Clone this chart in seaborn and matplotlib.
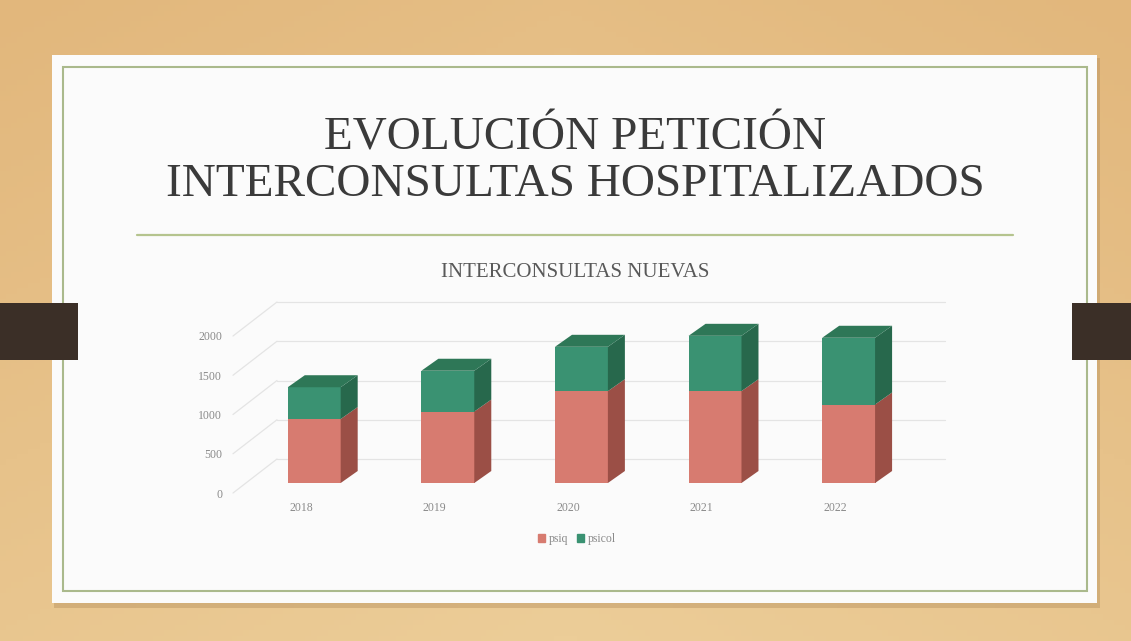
import numpy as np
import pandas as pd
import matplotlib.pyplot as plt
import matplotlib.transforms as mtransforms
from matplotlib.patches import Rectangle, Polygon
from matplotlib.lines import Line2D
from matplotlib.colors import LinearSegmentedColormap
import seaborn as sns

# data
years = ["2018", "2019", "2020", "2021", "2022"]
psiq = [815, 910, 1170, 1170, 1000]
psicol = [405, 520, 565, 705, 850]
yticks = [0, 500, 1000, 1500, 2000]

df = pd.DataFrame({"year": years, "psiq": psiq, "psicol": psicol})
df["total"] = df["psiq"] + df["psicol"]

W, H = 1131, 641
sns.set_theme(style="white")
plt.rcParams["font.family"] = ["Liberation Serif", "DejaVu Serif"]

fig = plt.figure(figsize=(W / 100, H / 100), dpi=100)
fig.patch.set_facecolor("#e7c48d")

# wood-ish backdrop (just a soft gradient)
bg = fig.add_axes([0, 0, 1, 1], zorder=-1)
gx, gy = np.meshgrid(np.linspace(-1, 1, 200), np.linspace(0, 1, 120))
shade = 0.55 * gy + 0.25 * (1 - np.abs(gx))
wood = LinearSegmentedColormap.from_list("wood", ["#e2b77c", "#eccd98"])
bg.imshow(shade, cmap=wood, aspect="auto", extent=[0, 1, 0, 1], origin="upper")
bg.set_axis_off()

# pixel coords, origin top-left
px = mtransforms.Affine2D().scale(1 / 100, -1 / 100).translate(0, H / 100) + fig.dpi_scale_trans

# slide card + shadow + border
fig.add_artist(Rectangle((54, 58), 1046, 550, facecolor="#b8925f", alpha=0.45, edgecolor="none", transform=px, zorder=0))
fig.add_artist(Rectangle((52, 55), 1045, 548, facecolor="#fbfbfb", edgecolor="none", transform=px, zorder=1))
fig.add_artist(Rectangle((63, 67), 1024, 524, facecolor="none", edgecolor="#aab98c", lw=1.5, transform=px, zorder=2))

# dark tabs on the sides
fig.add_artist(Rectangle((0, 303), 78, 57, facecolor="#3b2f27", edgecolor="none", transform=px, zorder=3))
fig.add_artist(Rectangle((1072, 303), 59, 57, facecolor="#3b2f27", edgecolor="none", transform=px, zorder=3))

# title
fig.text(575 / W, 1 - 150 / H, "EVOLUCIÓN PETICIÓN", ha="center", va="baseline",
         fontsize=34, color="#3a3a3a", zorder=4)
fig.text(575 / W, 1 - 196 / H, "INTERCONSULTAS HOSPITALIZADOS", ha="center", va="baseline",
         fontsize=34, color="#3a3a3a", zorder=4)
fig.add_artist(Line2D([137, 1013], [235, 235], color="#b5c48e", lw=1.6, transform=px, zorder=4))
fig.text(575 / W, 1 - 277 / H, "INTERCONSULTAS NUEVAS", ha="center", va="baseline",
         fontsize=15, color="#595959", zorder=4)

# chart axes: bar base at y=483px, 0.0785 px per unit, 133.6 px per category
scale = 0.0785
step = 133.6
ax_left = 314.5 - step / 2
ax = fig.add_axes([ax_left / W, (H - 483) / H, 5 * step / W, 2000 * scale / H])
ax.set_zorder(5)
ax.patch.set_alpha(0)

red, red_side = "#d77b70", "#9b4f46"
green, green_side, green_top = "#3a9272", "#27684c", "#2e7757"

sns.barplot(data=df, x="year", y="total", color=green, saturation=1, width=0.4, errorbar=None, ax=ax)
sns.barplot(data=df, x="year", y="psiq", color=red, saturation=1, width=0.4, errorbar=None, ax=ax)
ax.set_xlim(-0.5, 4.5)
ax.set_ylim(0, 2000)
for p in ax.patches:
    p.set_edgecolor("none")
    p.set_clip_on(False)

# depth of the 3d effect
ddx = 17 / step
ddy = 12 / scale
for i, (r, t) in enumerate(zip(df["psiq"], df["total"])):
    x1 = i + 0.2 - 0.004
    x0 = i - 0.2
    ax.add_patch(Polygon([(x1, 0), (x1, r), (x1 + ddx, r + ddy), (x1 + ddx, ddy)],
                         facecolor=red_side, edgecolor="none", clip_on=False))
    ax.add_patch(Polygon([(x1, r), (x1, t), (x1 + ddx, t + ddy), (x1 + ddx, r + ddy)],
                         facecolor=green_side, edgecolor="none", clip_on=False))
    ax.add_patch(Polygon([(x0, t), (x1, t), (x1 + ddx, t + ddy), (x0 + ddx, t + ddy)],
                         facecolor=green_top, edgecolor="none", clip_on=False))

# back wall gridlines and side wall lines
for v in yticks:
    yb = 483 - v * scale - 24
    yf = 483 - v * scale + 10
    fig.add_artist(Line2D([277, 945], [yb, yb], color="#e4e4e4", lw=0.9, transform=px, zorder=4))
    fig.add_artist(Line2D([233, 277], [yf, yb], color="#e4e4e4", lw=0.9, transform=px, zorder=4))

sns.despine(ax=ax, left=True, bottom=True)
ax.set_xlabel("")
ax.set_ylabel("")
ax.set_yticks(yticks)
ax.set_yticklabels([str(v) for v in yticks])
ax.tick_params(axis="y", length=0, pad=18.5, labelsize=8.5, labelcolor="#8a8a8a")
ax.tick_params(axis="x", length=0, pad=14, labelsize=8.5, labelcolor="#8a8a8a")
for lab in ax.get_yticklabels():
    lab.set_transform(lab.get_transform() + mtransforms.ScaledTranslation(0, -10 / 100, fig.dpi_scale_trans))
for lab in ax.get_xticklabels():
    lab.set_transform(lab.get_transform() + mtransforms.ScaledTranslation(-13.5 / 100, 0, fig.dpi_scale_trans))

handles = [Rectangle((0, 0), 1, 1, color=red), Rectangle((0, 0), 1, 1, color=green)]
leg = fig.legend(handles, ["psiq", "psicol"], loc="center", bbox_to_anchor=(577 / W, 1 - 539 / H),
                 ncol=2, frameon=False, fontsize=8.5, handlelength=0.6, handleheight=0.6,
                 handletextpad=0.3, columnspacing=0.8)
for t in leg.get_texts():
    t.set_color("#8a8a8a")
leg.set_zorder(6)

fig.savefig("out.png", dpi=100, facecolor=fig.get_facecolor())
